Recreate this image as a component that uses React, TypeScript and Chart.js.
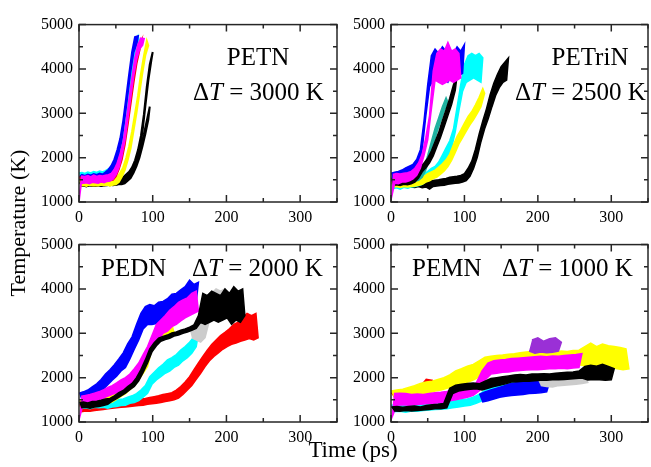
import React, { useEffect, useRef } from "react";
import { Chart, registerables } from "chart.js";
Chart.register(...registerables);

// ---- axes ----
const X_MIN = 0;
const X_MAX = 350;
const X_STEP = 100;
const X_MINOR = 50;
const Y_MIN = 1000;
const Y_MAX = 5000;
const Y_STEP = 1000;
const Y_MINOR = 500;

// ---- PETN (ΔT = 3000 K), samples every 2 ps (alternating peak / trough of the noisy trace) ----
const PETN_DT = 2;
const PETN_BLUE = [1560,1490,1610,1500,1590,1520,1620,1510,1600,1530,1630,1520,1610,1540,1640,1550,1620,1560,1670,1580,1730,1620,1820,1720,1960,1870,2170,2100,2430,2410,2830,2900,3350,3430,3880,3960,4380,4380,4720,4560,4740];
const PETN_CYAN = [1650,1540,1660,1550,1640,1530,1670,1560,1650,1540,1680,1570,1660,1550,1690,1580,1670,1570,1700,1600,1740,1610,1780,1660,1870,1780,2030,1980,2260,2260,2590,2650,3090,3220,3660,3760,4190,4220,4570,4560,4730,4600];
const PETN_MAGENTA = [1050,1420,1580,1430,1570,1440,1590,1420,1560,1450,1600,1440,1570,1430,1590,1460,1580,1440,1600,1470,1610,1480,1640,1520,1730,1620,1870,1780,2080,2040,2340,2390,2790,2870,3290,3370,3790,3850,4240,4220,4540,4450,4690,4540,4680];
const PETN_RED = [1560,1450,1540,1440,1550,1460,1570,1450,1540,1460,1560,1450,1550,1470,1570,1460,1560,1470,1580,1480,1570,1490,1590,1500,1670,1580,1810,1740,1990,1960,2240,2290,2680,2740,3150,3220,3630,3700,4090,4120,4450,4420,4600];
const PETN_YELLOW = [1480,1370,1500,1380,1470,1360,1490,1390,1480,1370,1500,1380,1490,1370,1510,1390,1480,1380,1500,1390,1510,1370,1500,1390,1520,1400,1560,1450,1660,1570,1780,1720,1990,1940,2250,2210,2590,2610,2990,3010,3390,3460,3890,3910,4290,4310,4630,4530];
const PETN_BLACK_A = [1460,1370,1450,1380,1470,1360,1440,1370,1460,1380,1450,1360,1470,1370,1440,1380,1460,1370,1450,1380,1470,1390,1460,1380,1480,1390,1470,1400,1490,1400,1500,1420,1570,1480,1630,1540,1720,1660,1850,1810,2020,2000,2260,2250,2530,2530,2840,2850,3150];
const PETN_BLACK_B = [1440,1360,1460,1370,1450,1350,1470,1380,1440,1360,1460,1370,1450,1380,1470,1360,1450,1380,1460,1390,1470,1380,1450,1400,1480,1390,1470,1410,1490,1420,1560,1470,1620,1520,1680,1590,1780,1700,1940,1900,2170,2190,2490,2560,2970,3160,3600,3730,4100,4180,4380];

// ---- PETriN (ΔT = 2500 K), samples every 2.5 ps ----
const PETRIN_DT = 2.5;
const PETRIN_BLUE = [1650,1480,1670,1500,1690,1530,1720,1560,1770,1600,1810,1640,1850,1700,1960,1830,2180,2180,2830,2950,3650,3600,4300,3750,4450,3800,4350,3750,4500,3800,4400,3700,4450,3850,4350,3800,4500,3850,4400,3900,4550];
const PETRIN_MAGENTA = [1050,1620,1420,1640,1410,1630,1450,1650,1450,1660,1480,1690,1520,1760,1600,1880,1760,2080,2050,2460,2400,2950,3100,3950,3750,4350,3700,4450,3650,4400,3700,4600,3750,4400,3700,4450,3750,4350,3800];
const PETRIN_TEAL = [1560,1430,1570,1440,1550,1420,1580,1450,1560,1440,1590,1460,1580,1470,1600,1490,1640,1560,1780,1730,2050,1980,2360,2290,2660,2570,2900,2810,3150,3050,3350,3250];
const PETRIN_BLACK_A = [1520,1380,1510,1390,1530,1370,1500,1400,1540,1390,1520,1410,1560,1450,1640,1540,1790,1680,1880,1770,1990,1880,2150,2040,2360,2250,2570,2460,2830,2700,3080,2950,3340,3200,3640,3520,3850];
const PETRIN_CYAN = [1500,1300,1520,1320,1490,1290,1530,1330,1510,1310,1540,1340,1530,1350,1560,1370,1590,1400,1640,1460,1690,1520,1760,1570,1800,1640,1900,1760,2060,1890,2220,2030,2380,2220,2640,2580,3140,3060,3650,3500,4100,3700,4300,3750,4350,3800,4300,3750,4350,3700,4250];
const PETRIN_YELLOW = [1450,1340,1460,1350,1440,1330,1470,1350,1450,1340,1460,1350,1480,1360,1500,1380,1530,1400,1580,1450,1640,1480,1680,1530,1720,1560,1790,1630,1860,1700,1950,1800,2080,1940,2290,2120,2480,2310,2620,2450,2780,2600,2930,2740,3040,2860,3190,3000,3360,3150,3560,3450];
const PETRIN_BLACK_B = [1460,1330,1450,1340,1470,1320,1440,1350,1460,1330,1450,1340,1470,1330,1460,1350,1440,1320,1470,1340,1460,1290,1480,1350,1490,1360,1500,1370,1520,1380,1530,1400,1560,1410,1570,1420,1580,1430,1600,1450,1640,1480,1760,1580,1920,1760,2190,2010,2530,2360,2830,2650,3100,2880,3420,3150,3680,3400,3880,3580,4050,3700,4150,3750,4250];

// ---- PEDN (ΔT = 2000 K), samples every 3 ps ----
const PEDN_DT = 3;
const PEDN_BLUE = [1650,1500,1680,1520,1720,1540,1790,1580,1860,1660,1960,1740,2080,1840,2180,1940,2290,2030,2420,2150,2560,2230,2760,2420,2920,2640,3200,2850,3450,3100,3600,3200,3650,3200,3620,3220,3700,3250,3720,3330,3780,3380,3880,3460,3900,3520,3980,3560,4050,3620,4200,3650,4100,3700,4150];
const PEDN_MAGENTA = [1050,1580,1420,1600,1440,1620,1460,1650,1480,1680,1500,1720,1560,1780,1600,1820,1640,1880,1680,1950,1730,2000,1780,2080,1850,2200,1960,2330,2100,2520,2300,2700,2560,2950,2700,3200,2850,3300,3000,3400,3050,3520,3150,3600,3200,3700,3280,3750,3350,3800,3400,3900,3450,3950,3500];
const PEDN_BLACK = [1440,1320,1450,1330,1430,1310,1460,1340,1470,1350,1490,1370,1520,1400,1530,1470,1590,1530,1660,1590,1710,1650,1800,1730,1870,1800,2000,1930,2180,2120,2400,2330,2650,2580,2790,2720,2890,2820,2930,2860,2960,2890,3010,2940,3030,2960,3070,3000,3100,3030,3140,3070,3190,3110,3400,3250,3900,3200,3850,3250,3950,3300,3900,3250,3850,3300,4000,3350,3900,3200,4050,3300,3950,3250,4000,3400];
const PEDN_GRAY_T0 = 150;
const PEDN_GRAY = [3100,2900,3200,2850,3300,2800,3500,2900,3800,3300,3900,3400,4000,3500,3950,3600,4000,3550];
const PEDN_YELLOW = [1470,1340,1480,1350,1460,1330,1490,1360,1500,1380,1530,1390,1560,1420,1600,1450,1680,1510,1750,1580,1800,1640,1900,1730,2000,1820,2150,1950,2300,2100,2450,2250,2800,2650,3000,2800,3100,2850,3150,2900,3150,2950,3200,3000];
const PEDN_CYAN = [1440,1310,1450,1320,1430,1300,1460,1330,1440,1320,1460,1330,1450,1310,1470,1340,1490,1350,1510,1370,1520,1380,1560,1420,1590,1440,1640,1480,1720,1560,1820,1650,2020,1850,2120,1950,2220,2020,2300,2100,2400,2150,2450,2230,2520,2280,2620,2380,2700,2450,2800,2550,2920,2700,3000];
const PEDN_RED = [1400,1230,1410,1250,1390,1240,1420,1260,1400,1270,1430,1280,1420,1300,1450,1310,1440,1320,1460,1330,1470,1340,1460,1350,1490,1360,1500,1370,1520,1380,1530,1400,1550,1410,1570,1420,1590,1440,1620,1460,1640,1480,1660,1500,1720,1540,1800,1620,1900,1720,2020,1820,2180,1960,2330,2100,2480,2250,2620,2380,2750,2480,2850,2560,2950,2640,3020,2700,3100,2750,3200,2780,3250,2820,3350,2850,3450,2880,3400,2850,3450,2900];

// ---- PEMN (ΔT = 1000 K), samples every 4 ps ----
const PEMN_DT = 4;
const PEMN_YELLOW = [1700,1540,1720,1560,1740,1570,1780,1580,1820,1600,1870,1640,1900,1660,1920,1700,1960,1720,2000,1760,2060,1800,2150,1840,2200,1880,2260,1920,2300,1980,2380,2100,2460,2180,2480,2200,2500,2220,2510,2240,2530,2260,2540,2280,2560,2300,2580,2300,2590,2320,2600,2320,2580,2300,2600,2320,2580,2310,2600,2320,2590,2300,2610,2300,2620,2280,2700,2250,2780,2260,2700,2240,2760,2250,2720,2230,2700,2200,2680,2180,2650,2200];
const PEMN_RED = [1650,1560,1680,1580,1700,1600,1720,1620,1760,1650,1800,1700,1960,1760,1940];
const PEMN_MAGENTA = [1050,1640,1380,1650,1390,1640,1380,1620,1390,1630,1400,1620,1410,1640,1420,1660,1430,1670,1450,1690,1480,1720,1500,1760,1530,1790,1560,1820,1600,1880,1700,2150,1950,2330,2080,2380,2100,2400,2120,2410,2130,2430,2150,2440,2160,2450,2170,2460,2180,2470,2180,2480,2190,2470,2200,2490,2200,2480,2210,2500,2200,2510,2220,2520,2230,2540];
const PEMN_BLACK = [1340,1250,1350,1240,1330,1260,1350,1250,1360,1260,1340,1270,1370,1280,1390,1300,1400,1300,1420,1320,1760,1640,1830,1700,1850,1720,1870,1740,1880,1750,1860,1720,1920,1760,1980,1800,2000,1830,2020,1860,2040,1900,2060,1910,2070,1920,2060,1920,2080,1930,2080,1940,2090,1940,2080,1950,2100,1950,2110,1960,2120,1970,2130,1980,2150,1990,2250,1950,2280,1960,2260,1950,2300,1940,2250,1950,2200];
const PEMN_CYAN = [1380,1230,1390,1240,1370,1220,1400,1250,1390,1240,1410,1260,1400,1270,1420,1280,1430,1290,1440,1300,1460,1320,1480,1340,1500,1360,1520,1380,1560,1420,1620,1480,1720,1540,1780,1580,1820,1620,1850,1640,1880,1660,1900,1680,1920,1700,1900];
const PEMN_BLUE_T0 = 120;
const PEMN_BLUE = [1620,1450,1680,1480,1720,1520,1760,1560,1800,1580,1850,1600,1880,1610,1900,1620,1920,1640,1930,1650,1950,1660,1960,1680,1900];
const PEMN_GRAY_T0 = 200;
const PEMN_GRAY = [1950,1820,1960,1800,1940,1790,1970,1820,1950,1830,1980,1840,1990,1850,2000,1870,2020,1890];
const PEMN_PURPLE_T0 = 188;
const PEMN_PURPLE = [2600,2850,2550,2900,2580,2820,2560,2880,2570,2900,2600,2800];

type Trace = { values: number[]; t0: number; dt: number; color: string };

const C = {
  blue: "#0000ff",
  cyan: "#00ffff",
  magenta: "#ff00ff",
  red: "#ff0000",
  yellow: "#ffff00",
  black: "#000000",
  teal: "#20b2a0",
  gray: "#cccccc",
  purple: "#9a30d6",
};

const tr = (values: number[], dt: number, color: string, t0 = 0): Trace => ({ values, t0, dt, color });

// listed bottom -> top
const PETN_TRACES: Trace[] = [
  tr(PETN_BLACK_B, PETN_DT, C.black),
  tr(PETN_BLACK_A, PETN_DT, C.black),
  tr(PETN_YELLOW, PETN_DT, C.yellow),
  tr(PETN_CYAN, PETN_DT, C.cyan),
  tr(PETN_BLUE, PETN_DT, C.blue),
  tr(PETN_RED, PETN_DT, C.red),
  tr(PETN_MAGENTA, PETN_DT, C.magenta),
];
const PETRIN_TRACES: Trace[] = [
  tr(PETRIN_BLACK_B, PETRIN_DT, C.black),
  tr(PETRIN_CYAN, PETRIN_DT, C.cyan),
  tr(PETRIN_YELLOW, PETRIN_DT, C.yellow),
  tr(PETRIN_TEAL, PETRIN_DT, C.teal),
  tr(PETRIN_BLACK_A, PETRIN_DT, C.black),
  tr(PETRIN_BLUE, PETRIN_DT, C.blue),
  tr(PETRIN_MAGENTA, PETRIN_DT, C.magenta),
];
const PEDN_TRACES: Trace[] = [
  tr(PEDN_RED, PEDN_DT, C.red),
  tr(PEDN_CYAN, PEDN_DT, C.cyan),
  tr(PEDN_YELLOW, PEDN_DT, C.yellow),
  tr(PEDN_GRAY, PEDN_DT, C.gray, PEDN_GRAY_T0),
  tr(PEDN_BLUE, PEDN_DT, C.blue),
  tr(PEDN_MAGENTA, PEDN_DT, C.magenta),
  tr(PEDN_BLACK, PEDN_DT, C.black),
];
const PEMN_TRACES: Trace[] = [
  tr(PEMN_RED, PEMN_DT, C.red),
  tr(PEMN_YELLOW, PEMN_DT, C.yellow),
  tr(PEMN_CYAN, PEMN_DT, C.cyan),
  tr(PEMN_BLUE, PEMN_DT, C.blue, PEMN_BLUE_T0),
  tr(PEMN_GRAY, PEMN_DT, C.gray, PEMN_GRAY_T0),
  tr(PEMN_MAGENTA, PEMN_DT, C.magenta),
  tr(PEMN_BLACK, PEMN_DT, C.black),
  tr(PEMN_PURPLE, PEMN_DT, C.purple, PEMN_PURPLE_T0),
];

const SERIF = "'Liberation Serif', 'Times New Roman', serif";

// the noisy trace is drawn as the band between its peaks (even samples) and troughs (odd samples)
const bandPoints = (t: Trace) => {
  const upper: { x: number; y: number }[] = [];
  const lower: { x: number; y: number }[] = [];
  t.values.forEach((y, i) => {
    const p = { x: t.t0 + i * t.dt, y };
    if (i % 2 === 0) upper.push(p);
    else lower.push(p);
  });
  return [...upper, ...lower.reverse()];
};

const framePlugin = {
  id: "frame",
  afterDatasetsDraw(chart: any) {
    const { ctx, chartArea: a, scales } = chart;
    const xs = scales.x;
    const ys = scales.y;
    ctx.save();
    ctx.strokeStyle = "#262626";
    ctx.lineWidth = 1.5;
    ctx.strokeRect(a.left, a.top, a.right - a.left, a.bottom - a.top);
    ctx.beginPath();
    for (let v = X_MIN; v <= X_MAX; v += X_MINOR) {
      const p = xs.getPixelForValue(v);
      const len = v % X_STEP === 0 ? 7 : 4;
      ctx.moveTo(p, a.bottom);
      ctx.lineTo(p, a.bottom - len);
      ctx.moveTo(p, a.top);
      ctx.lineTo(p, a.top + len);
    }
    for (let v = Y_MIN; v <= Y_MAX; v += Y_MINOR) {
      const p = ys.getPixelForValue(v);
      const len = v % Y_STEP === 0 ? 7 : 4;
      ctx.moveTo(a.left, p);
      ctx.lineTo(a.left + len, p);
      ctx.moveTo(a.right, p);
      ctx.lineTo(a.right - len, p);
    }
    ctx.stroke();
    ctx.restore();
  },
};

const Y_AXIS_W = 56;
const X_AXIS_H = 30;
const PAD_TOP = 12;
const PAD_RIGHT = 4;

function Panel(props: { traces: Trace[]; left: number; top: number; plotW: number; plotH: number; lw: number }) {
  const ref = useRef<HTMLCanvasElement | null>(null);
  const { traces, left, top, plotW, plotH, lw } = props;
  const width = Y_AXIS_W + plotW + PAD_RIGHT;
  const height = PAD_TOP + plotH + X_AXIS_H;
  useEffect(() => {
    if (!ref.current) return;
    const datasets = traces
      .map((t) => ({
        data: bandPoints(t),
        borderColor: t.color,
        backgroundColor: t.color,
        borderWidth: lw,
        pointRadius: 0,
        tension: 0,
        fill: "shape",
      }))
      .reverse();
    const chart = new Chart(ref.current, {
      type: "line",
      data: { datasets },
      options: {
        animation: false,
        responsive: false,
        events: [],
        layout: { padding: { top: PAD_TOP, right: PAD_RIGHT, left: 0, bottom: 0 } },
        plugins: { legend: { display: false }, tooltip: { enabled: false } },
        scales: {
          x: {
            type: "linear",
            min: X_MIN,
            max: X_MAX,
            grid: { display: false, drawTicks: false },
            border: { display: false },
            ticks: {
              stepSize: X_STEP,
              includeBounds: false,
              autoSkip: false,
              maxRotation: 0,
              padding: 6,
              color: "#000",
              font: { family: SERIF, size: 16 },
              callback: (v: any) => String(v),
            },
            afterFit: (s: any) => {
              s.height = X_AXIS_H;
            },
          },
          y: {
            type: "linear",
            min: Y_MIN,
            max: Y_MAX,
            grid: { display: false, drawTicks: false },
            border: { display: false },
            ticks: {
              stepSize: Y_STEP,
              padding: 6,
              color: "#000",
              font: { family: SERIF, size: 16 },
              callback: (v: any) => String(v),
            },
            afterFit: (s: any) => {
              s.width = Y_AXIS_W;
            },
          },
        },
      } as any,
      plugins: [framePlugin],
    });
    return () => chart.destroy();
  }, []);
  return (
    <canvas
      ref={ref}
      width={width}
      height={height}
      style={{ position: "absolute", left, top, width, height }}
    />
  );
}

const labelStyle: React.CSSProperties = {
  position: "absolute",
  fontFamily: SERIF,
  fontSize: 25,
  lineHeight: "25px",
  color: "#000",
  whiteSpace: "nowrap",
};

const DT = (v: string) => (
  <span>
    Δ<i>T</i> = {v} K
  </span>
);

export default function App() {
  return (
    <div style={{ position: "fixed", left: 0, top: 0, width: 651, height: 467, background: "#fff", overflow: "hidden" }}>
      <Panel traces={PETN_TRACES} left={23} top={9} plotW={258} plotH={181} lw={2} />
      <Panel traces={PETRIN_TRACES} left={335} top={9} plotW={257} plotH={181} lw={1.5} />
      <Panel traces={PEDN_TRACES} left={23} top={229} plotW={258} plotH={181} lw={1.5} />
      <Panel traces={PEMN_TRACES} left={335} top={229} plotW={257} plotH={181} lw={1.5} />

      <div style={{ ...labelStyle, left: 208, top: 44, width: 100, textAlign: "center" }}>PETN</div>
      <div style={{ ...labelStyle, left: 193, top: 79 }}>{DT("3000")}</div>
      <div style={{ ...labelStyle, left: 540, top: 44, width: 100, textAlign: "center" }}>PETriN</div>
      <div style={{ ...labelStyle, left: 515, top: 79 }}>{DT("2500")}</div>
      <div style={{ ...labelStyle, left: 101, top: 255 }}>PEDN</div>
      <div style={{ ...labelStyle, left: 192, top: 255 }}>{DT("2000")}</div>
      <div style={{ ...labelStyle, left: 412, top: 255 }}>PEMN</div>
      <div style={{ ...labelStyle, left: 502, top: 255 }}>{DT("1000")}</div>

      <div
        style={{
          ...labelStyle,
          fontSize: 22,
          lineHeight: "24px",
          left: 18 - 100,
          top: 223 - 12,
          width: 200,
          textAlign: "center",
          transform: "rotate(-90deg)",
        }}
      >
        Temperature (K)
      </div>
      <div style={{ ...labelStyle, fontSize: 23, lineHeight: "24px", left: 253, top: 438, width: 200, textAlign: "center" }}>
        Time (ps)
      </div>
    </div>
  );
}
